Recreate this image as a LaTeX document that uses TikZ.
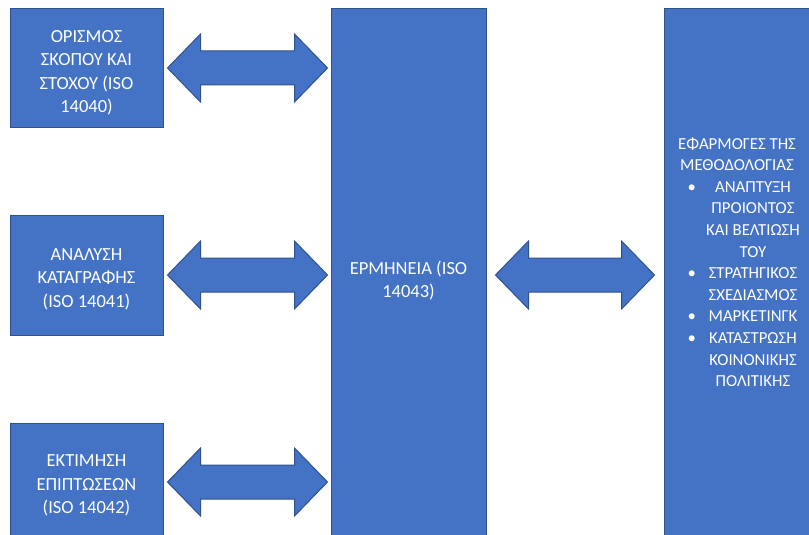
\documentclass[tikz,border=0pt]{standalone}
\usepackage{fontspec}
\setmainfont{Carlito}
\usepackage{array}
\usetikzlibrary{calc}

\definecolor{boxblue}{HTML}{4472C4}
\definecolor{edgeblue}{HTML}{2F528F}

% two-headed block arrow between two points on one level
\newcommand{\linkarrow}[2]{%
	\draw[link] let \p1=(#1), \p2=(#2) in
		(\x1,\y1) -- ++(33pt,34pt) -- ++(0,-17pt) -- (\x2-33pt,\y1+17pt) -- ++(0,17pt)
		-- (\x2,\y1) -- ++(-33pt,-34pt) -- ++(0,17pt) -- (\x1+33pt,\y1-17pt) -- ++(0,-17pt) -- cycle;}

\begin{document}
\begin{tikzpicture}[x=1pt,y=-1pt,
		link/.style={fill=boxblue,draw=edgeblue,line width=1pt,line join=miter},
		lbl/.style={text=white,align=center,inner sep=0pt,font=\fontsize{18.5}{23.5}\selectfont}]
		\useasboundingbox (0,0) rectangle (809,535);
		\clip (0,0) rectangle (809,535);

		\begin{scope}[every node/.style={rectangle,draw=edgeblue,fill=boxblue,line width=1pt}]
			\node[minimum width=153pt,minimum height=118pt] (S1) at (86.5,68) {};
			\node[minimum width=153pt,minimum height=120pt] (S2) at (86.5,275) {};
			\node[minimum width=153pt,minimum height=118pt] (S3) at (86.5,482) {};
			\node[minimum width=155pt,minimum height=540pt] (E) at (408.5,279) {};
			\node[minimum width=146pt,minimum height=540pt] (A) at (737,279) {};
		\end{scope}

		\node[lbl] (S1t) at ($(S1.center)+(0,5)$) {ΟΡΙΣΜΟΣ\\ΣΚΟΠΟΥ ΚΑΙ\\ΣΤΟΧΟΥ (ISO\\14040)};
		\node[lbl] (S2t) at ($(S2.center)+(0,4)$) {ΑΝΑΛΥΣΗ\\ΚΑΤΑΓΡΑΦΗΣ\\(ISO 14041)};
		\node[lbl] (S3t) at ($(S3.center)+(0,3.5)$) {ΕΚΤΙΜΗΣΗ\\ΕΠΙΠΤΩΣΕΩΝ\\(ISO 14042)};
		\node[lbl] (Et) at ($(E.center)+(0,1.5)$) {ΕΡΜΗΝΕΙΑ (ISO\\14043)};
		\node[lbl,font=\fontsize{16.8}{21.6}\selectfont] (At) at ($(A.center)+(0,-15.5)$) {%
			\begin{tabular}{@{}>{\raggedleft}p{32pt}@{}>{\centering\arraybackslash}p{114pt}@{}}
				\multicolumn{2}{@{}c@{}}{ΕΦΑΡΜΟΓΕΣ ΤΗΣ}\\
				\multicolumn{2}{@{}c@{}}{ΜΕΘΟΔΟΛΟΓΙΑΣ}\\
				• & ΑΝΑΠΤΥΞΗ\\
				& ΠΡΟΙΟΝΤΟΣ\\
				& ΚΑΙ ΒΕΛΤΙΩΣΗ\\
				& ΤΟΥ\\
				• & ΣΤΡΑΤΗΓΙΚΟΣ\\
				& ΣΧΕΔΙΑΣΜΟΣ\\
				• & ΜΑΡΚΕΤΙΝΓΚ\\
				• & ΚΑΤΑΣΤΡΩΣΗ\\
				& ΚΟΙΝΟΝΙΚΗΣ\\
				& ΠΟΛΙΤΙΚΗΣ
			\end{tabular}};

		\coordinate (L1) at ($(S1.east)+(4,0)$);
		\coordinate (R1) at ($(S1.east -| E.west)+(-3,0)$);
		\coordinate (L2) at ($(S2.east)+(4,0)$);
		\coordinate (R2) at ($(S2.east -| E.west)+(-3,0)$);
		\coordinate (L3) at ($(S3.east)+(4,0)$);
		\coordinate (R3) at ($(S3.east -| E.west)+(-3,0)$);
		\coordinate (L4) at ($(S2.east -| E.east)+(9,0)$);
		\coordinate (R4) at ($(S2.east -| A.west)+(-9,0)$);

		\linkarrow{L1}{R1}
		\linkarrow{L2}{R2}
		\linkarrow{L3}{R3}
		\linkarrow{L4}{R4}
	\end{tikzpicture}
\end{document}
